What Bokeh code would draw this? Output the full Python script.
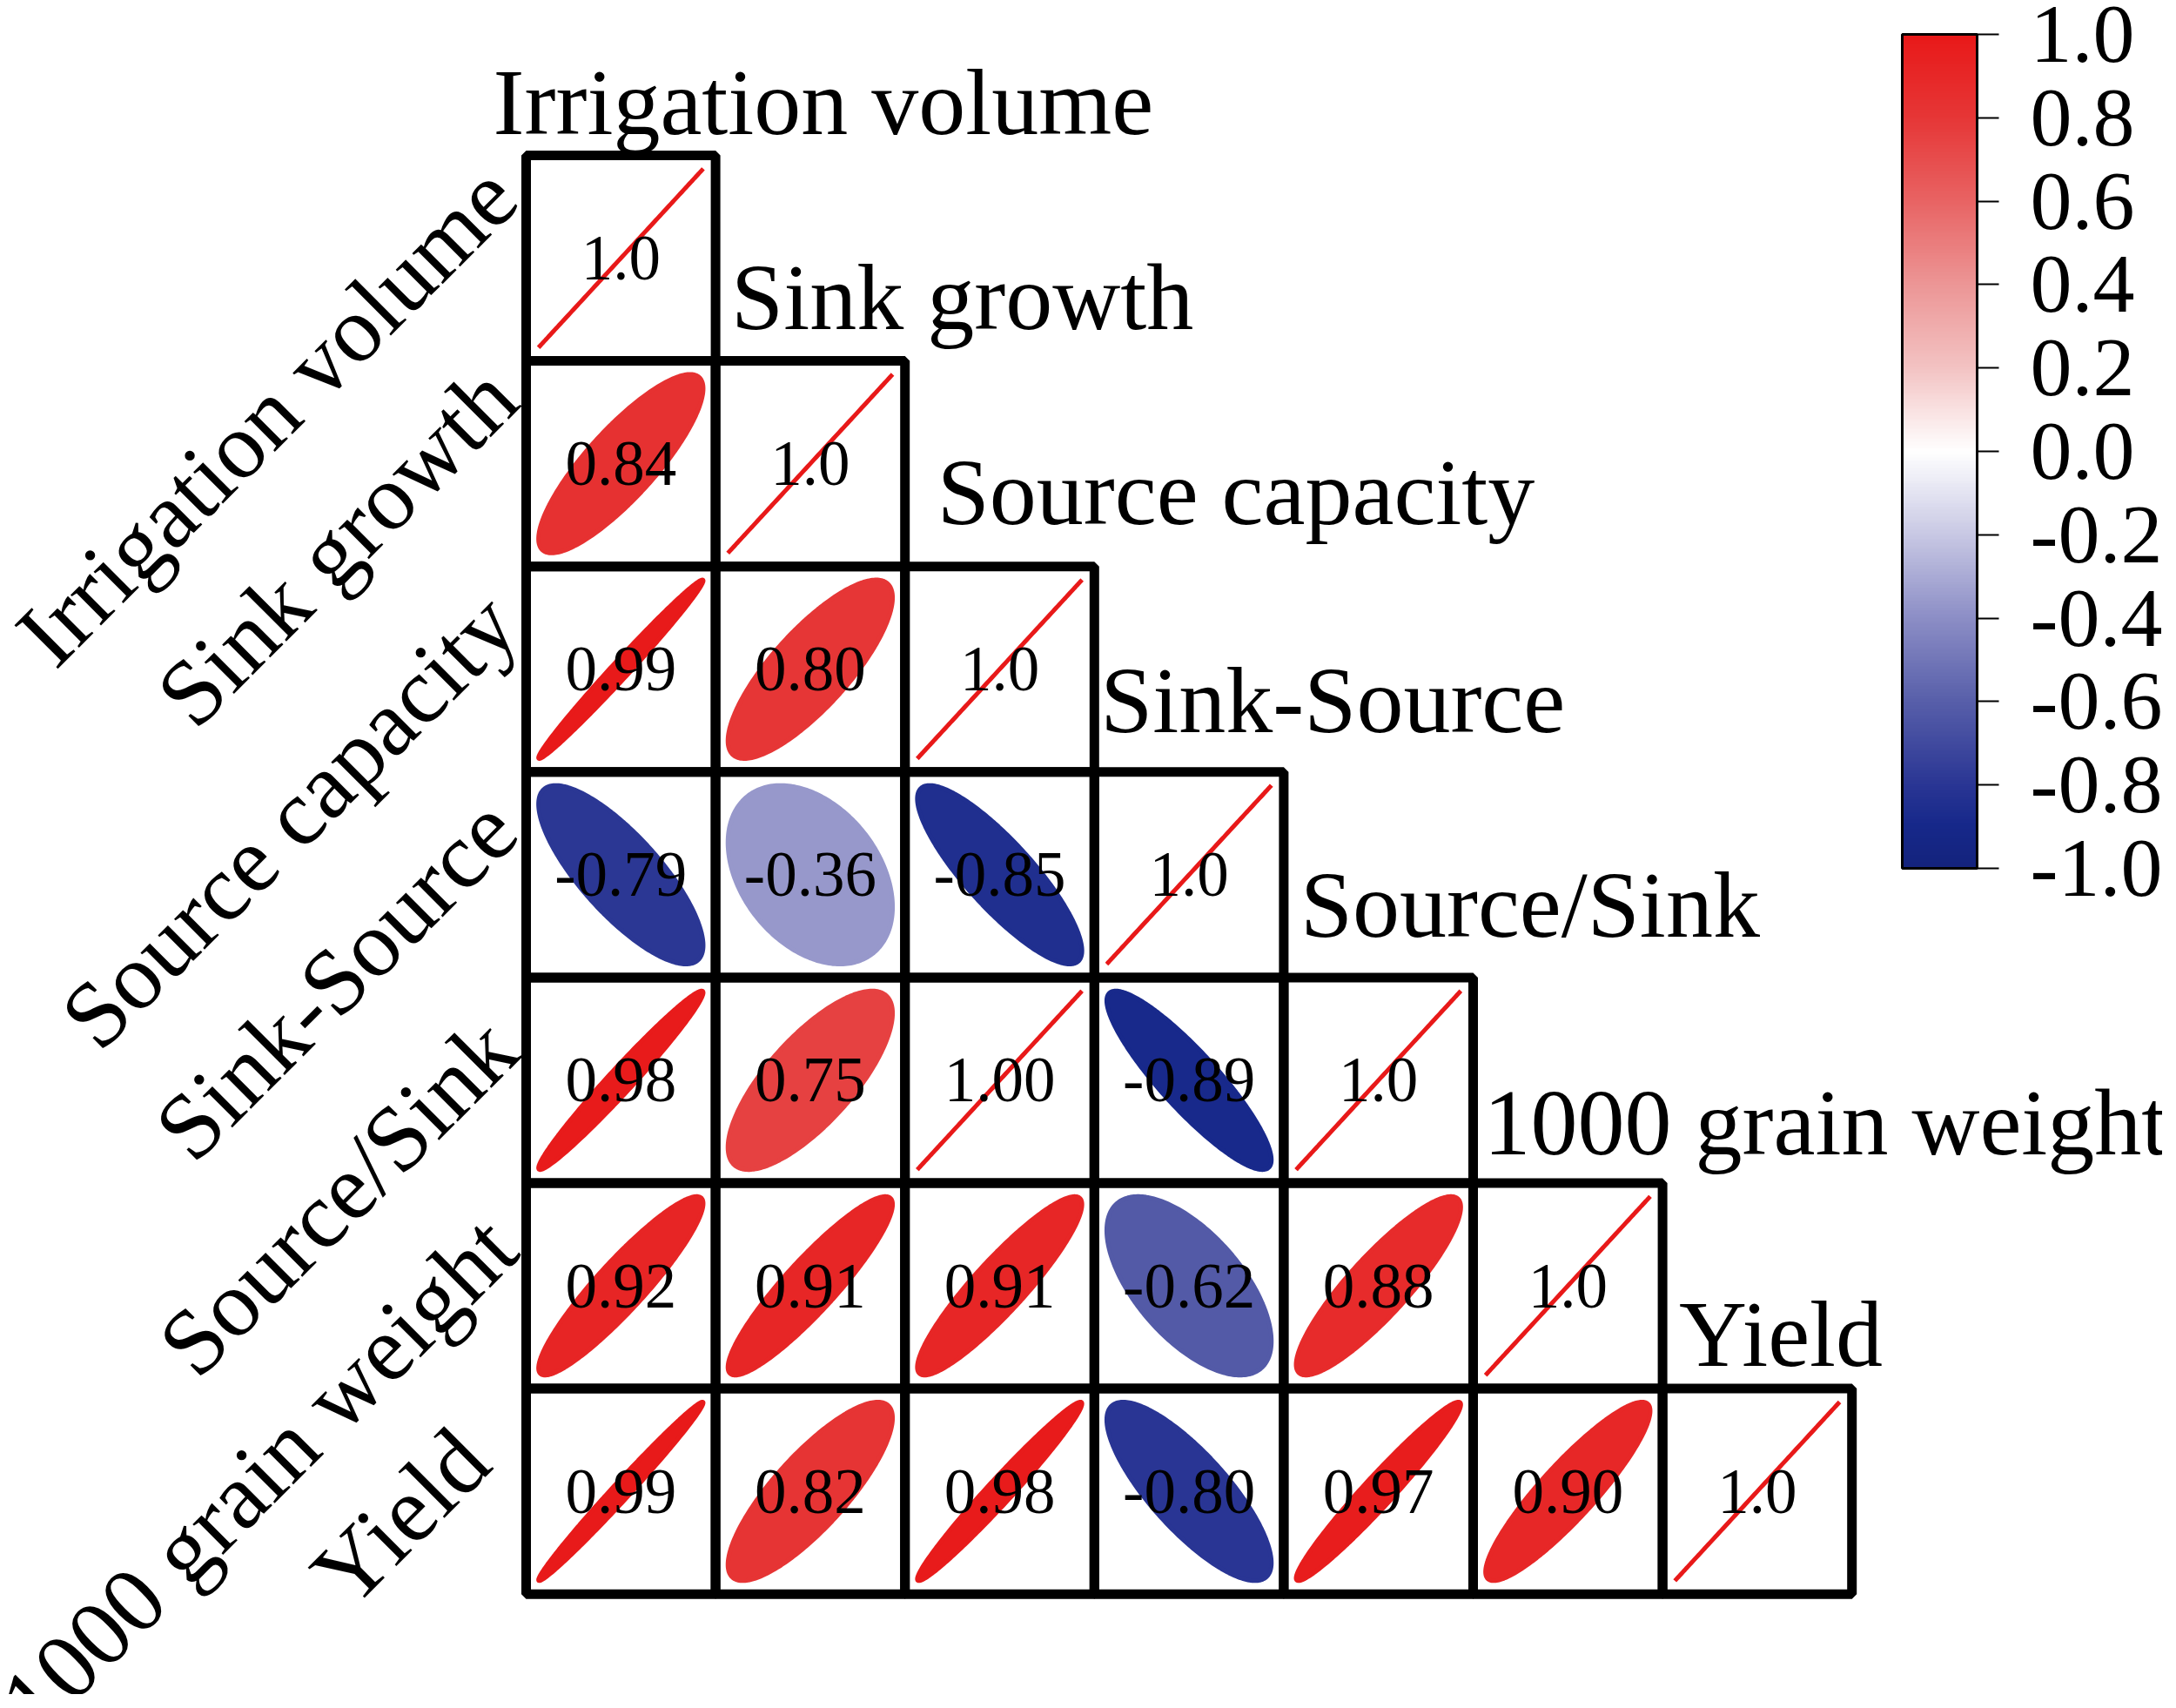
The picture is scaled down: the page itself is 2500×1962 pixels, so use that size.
import numpy as np
from bokeh.plotting import figure
from bokeh.models import (ColumnDataSource, LinearColorMapper, ColorBar,
                          FixedTicker, PrintfTickFormatter, Range1d)
from bokeh.embed import file_html
from bokeh.resources import INLINE
from bokeh.core.properties import value

# ---------------- data ----------------
variables = ["Irrigation volume", "Sink growth", "Source capacity",
             "Sink-Source", "Source/Sink", "1000 grain weight", "Yield"]

# lower triangle (row i, columns 0..i)
corr_rows = [
    [1.0],
    [0.84, 1.0],
    [0.99, 0.80, 1.0],
    [-0.79, -0.36, -0.85, 1.0],
    [0.98, 0.75, 1.00, -0.89, 1.0],
    [0.92, 0.91, 0.91, -0.62, 0.88, 1.0],
    [0.99, 0.82, 0.98, -0.80, 0.97, 0.90, 1.0],
]

colorbar_ticks = [-1.0, -0.8, -0.6, -0.4, -0.2, 0.0, 0.2, 0.4, 0.6, 0.8, 1.0]

# ---------------- style / layout ----------------
FONT = "Liberation Serif"
W, H = 2484, 1946
X0, Y0 = 604, 178          # grid top-left in canvas px
CW, CH = 217.6, 236.1      # cell size in px
K = 0.435                  # ellipse scale within a cell

# colour stops (value, rgb)
stops = [(-1.0, (20, 35, 125)), (-0.9, (22, 40, 138)), (-0.8, (42, 54, 148)),
         (-0.6, (88, 95, 170)), (-0.4, (140, 142, 198)), (-0.2, (200, 200, 228)),
         (0.0, (255, 255, 255)), (0.2, (243, 195, 195)), (0.4, (236, 150, 150)),
         (0.6, (232, 100, 100)), (0.8, (230, 55, 55)), (1.0, (232, 25, 25))]
sv = np.array([s[0] for s in stops])
sc = np.array([s[1] for s in stops], dtype=float)
grid_v = np.linspace(-1, 1, 256)
palette = []
for v in grid_v:
    rgb = [int(round(np.interp(v, sv, sc[:, c]))) for c in range(3)]
    palette.append("#%02x%02x%02x" % tuple(rgb))
mapper = LinearColorMapper(palette=palette, low=-1, high=1)

# ---------------- build cell table ----------------
t = np.linspace(0, 2 * np.pi, 240)
xs, ys, rs, cx, cy, labels = [], [], [], [], [], []
for i, row in enumerate(corr_rows):
    for j, r in enumerate(row):
        x_c, y_c = j + 0.5, -(i + 0.5)
        a = np.arccos(np.clip(r, -1, 1)) / 2
        xs.append(list(x_c + K * np.cos(t + a)))
        ys.append(list(y_c + K * np.cos(t - a)))
        rs.append(r)
        cx.append(x_c)
        cy.append(y_c)
        labels.append("1.0" if i == j else "%.2f" % r)

src = ColumnDataSource(dict(xs=xs, ys=ys, r=rs, cx=cx, cy=cy, label=labels))

p = figure(width=W, height=H,
           x_range=Range1d(-X0 / CW, (W - X0) / CW),
           y_range=Range1d((Y0 - H) / CH, Y0 / CH),
           output_backend="svg", toolbar_location=None,
           x_axis_location=None, y_axis_location=None, min_border=0)
p.grid.visible = False
p.outline_line_color = None
p.background_fill_color = "white"

cmap = {"field": "r", "transform": mapper}
p.patches("xs", "ys", source=src, fill_color=cmap, line_color=cmap, line_width=5)
p.rect("cx", "cy", width=1, height=1, source=src, fill_color=None,
       line_color="black", line_width=11)
p.text("cx", "cy", text="label", source=src, text_font=value(FONT),
       text_font_size="73px", text_align="center", text_baseline="middle",
       text_color="black")

# top (diagonal) labels
top_dx = [-38, 18, 37, 7, 19, 12, 19]      # px nudges
top_dy = [61, 73, 85, 82, 83, 70, 63]
n = len(variables)
tsrc = ColumnDataSource(dict(
    x=[k + top_dx[k] / CW for k in range(n)],
    y=[-k + top_dy[k] / CH for k in range(n)],
    text=variables))
p.text("x", "y", text="text", source=tsrc, text_font=value(FONT),
       text_font_size="108px", text_align="left", text_baseline="alphabetic",
       text_color="black")

# left rotated labels
left_dx = [-30, -30, -30, -30, -30, -30, -62]
left_dy = [88, 93, 69, 69, 53, 61, 53]
lsrc = ColumnDataSource(dict(
    x=[left_dx[k] / CW for k in range(n)],
    y=[-(k + 0.5) + left_dy[k] / CH for k in range(n)],
    text=variables))
p.text("x", "y", text="text", source=lsrc, text_font=value(FONT),
       text_font_size="108px", text_align="right", text_baseline="alphabetic",
       angle=np.pi / 4, text_color="black")

cb = ColorBar(color_mapper=mapper, location=(2185, 949), width=86, height=958,
              padding=0, margin=0,
              ticker=FixedTicker(ticks=colorbar_ticks),
              formatter=PrintfTickFormatter(format="%.1f"),
              major_label_text_font=FONT, major_label_text_font_size="96px",
              major_label_text_color="black",
              major_tick_in=0, major_tick_out=25, major_tick_line_color="black",
              major_tick_line_width=2, minor_tick_line_color=None,
              label_standoff=36, bar_line_color="black", bar_line_width=3,
              background_fill_alpha=0, border_line_color=None)
p.add_layout(cb)

open("out.html", "w").write(file_html(p, INLINE))
